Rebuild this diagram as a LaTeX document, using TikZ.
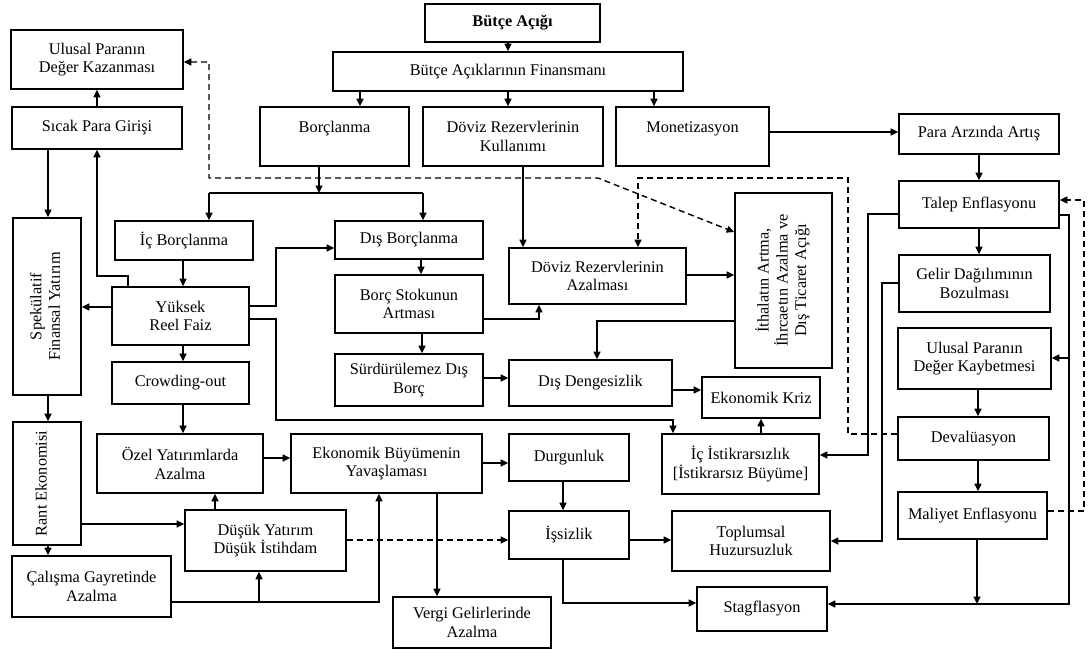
\documentclass[tikz,border=0pt]{standalone}
\usepackage{fontspec}
\setmainfont{Liberation Serif}
\usetikzlibrary{arrows.meta}
\newcommand\mybox[6]{\node[box, minimum width=#4pt, minimum height=#5pt] (#1) at (#2,#3) {#6};}
\newcommand\rottext[1]{\rotatebox{90}{\begin{tabular}{@{}c@{}}#1\end{tabular}}}
\begin{document}
\begin{tikzpicture}[x=1pt,y=-1pt,
  box/.style={draw, line width=1.7pt, align=center, inner sep=0pt, font=\fontsize{16.3}{18.5}\selectfont},
  con/.style={line width=1.4pt},
  arr/.style={con, -{Triangle[length=7.5pt,width=7pt]}},
  darr/.style={arr, dash pattern=on 6pt off 4pt},
  dline/.style={con, dash pattern=on 6pt off 4pt}]
\useasboundingbox[fill=white] (0,0) rectangle (1088,653);
% boxes
\mybox{butce}{512.5}{23}{175}{38}{\textbf{Bütçe Açığı}}
\mybox{baf}{508}{71.5}{350}{39}{Bütçe Açıklarının Finansmanı}
\mybox{borc}{334.5}{136.5}{149}{59}{Borçlanma\\\mbox{}}
\mybox{drk}{513}{136.5}{180}{59}{Döviz Rezervlerinin\\Kullanımı}
\mybox{monet}{692.5}{136.5}{153}{59}{Monetizasyon\\\mbox{}}
\mybox{updk}{97}{59.5}{172}{59}{Ulusal Paranın\\Değer Kazanması}
\mybox{spg}{97}{128}{170}{42}{Sıcak Para Girişi}
\mybox{paa}{979}{134}{160}{40}{Para Arzında Artış}
\mybox{te}{979}{204.5}{160}{47}{Talep Enflasyonu}
\mybox{gdb}{974.5}{283.5}{151}{57}{Gelir Dağılımının\\Bozulması}
\mybox{updkb}{974.5}{358.5}{153}{61}{Ulusal Paranın\\Değer Kaybetmesi}
\mybox{dev}{973.5}{438.5}{151}{43}{Devalüasyon}
\mybox{me}{972.5}{515.5}{149}{47}{Maliyet Enflasyonu}
\mybox{ith}{783.5}{280.5}{97}{175}{\rottext{İthalatın Artma,\\İhrcaetın Azalma ve\\Dış Ticaret Açığı}}
\mybox{sfy}{47}{306.5}{68}{177}{\rottext{Spekülatif\\Finansal Yatırım}}
\node[box, minimum width=68pt, minimum height=123pt] (rant) at (47,483.5) {};
\node[font=\fontsize{16.3}{18.5}\selectfont, inner sep=0pt] at ([xshift=-4pt]rant.center) {\rottext{Rant Ekonomisi}};
\mybox{icb}{184}{240.5}{138}{39}{İç Borçlanma}
\mybox{yrf}{180.5}{316}{137}{58}{Yüksek\\Reel Faiz}
\mybox{crowd}{180.5}{383}{137}{42}{Crowding-out}
\mybox{oya}{180}{463.5}{166}{59}{Özel Yatırımlarda\\Azalma}
\mybox{dy}{265.5}{540.5}{161}{61}{Düşük Yatırım\\Düşük İstihdam}
\mybox{cga}{91.5}{586.5}{159}{61}{Çalışma Gayretinde\\Azalma}
\mybox{disb}{409}{240}{148}{38}{Dış Borçlanma}
\mybox{bsa}{409}{304}{148}{58}{Borç Stokunun\\Artması}
\mybox{sdb}{409}{380}{148}{52}{Sürdürülemez Dış\\Borç}
\mybox{dra}{597.5}{276}{177}{56}{Döviz Rezervlerinin\\Azalması}
\mybox{dd}{590.5}{383}{163}{46}{Dış Dengesizlik}
\mybox{ek}{761}{397.5}{118}{41}{Ekonomik Kriz}
\mybox{ii}{740.5}{464}{157}{60}{İç İstikrarsızlık\\{[}İstikrarsız Büyüme{]}}
\mybox{eby}{386.5}{463.5}{191}{59}{Ekonomik Büyümenin\\Yavaşlaması}
\mybox{durg}{569}{457.5}{120}{47}{Durgunluk}
\mybox{issiz}{569}{535}{120}{48}{İşsizlik}
\mybox{th}{751}{541}{158}{60}{Toplumsal\\Huzursuzluk}
\mybox{stag}{762}{609}{130}{44}{Stagflasyon}
\mybox{vergi}{472}{622.5}{158}{51}{Vergi Gelirlerinde\\Azalma}
\coordinate (split) at (319,193);
% top connectors
\draw[arr] (baf.north |- butce.south) -- (baf.north);
\draw[arr] (360,0 |- baf.south) -- (360,0 |- borc.north);
\draw[arr] (508,0 |- baf.south) -- (508,0 |- drk.north);
\draw[arr] (654,0 |- baf.south) -- (654,0 |- monet.north);
\draw[arr] (split |- borc.south) -- (split);
\draw[con] (209,193) -- (423,193);
\draw[arr] (209,193) -- (209,0 |- icb.north);
\draw[arr] (423,193) -- (423,0 |- disb.north);
\draw[arr] (monet.east |- 0,132) -- (paa.west |- 0,132);
\draw[arr] (paa.south) -- (te.north);
\draw[arr] (te.south) -- (te.south |- gdb.north);
\draw[arr] (978,0 |- updkb.south) -- (978,0 |- dev.north);
\draw[arr] (978,0 |- dev.south) -- (978,0 |- me.north);
% left column
\draw[arr] (spg.north) -- (updk.south);
\draw[arr] (48,0 |- spg.south) -- (48,0 |- sfy.north);
\draw[arr] (128,0 |- yrf.north) -- (128,276) -- (97,276) -- (97,0 |- spg.south);
\draw[arr] (183,0 |- icb.south) -- (183,0 |- yrf.north);
\draw[arr] (yrf.west |- 0,307) -- (sfy.east |- 0,307);
\draw[arr] (yrf.east |- 0,306) -- (276,306) -- (276,248) -- (disb.west |- 0,248);
\draw[arr] (yrf.east |- 0,319) -- (276,319) -- (276,420) -- (673,420) -- (673,0 |- ii.north);
\draw[arr] (183,0 |- yrf.south) -- (183,0 |- crowd.north);
\draw[arr] (183,0 |- crowd.south) -- (183,0 |- oya.north);
\draw[arr] (oya.east |- 0,458) -- (eby.west |- 0,458);
\draw[arr] (215,0 |- dy.north) -- (215,0 |- oya.south);
\draw[arr] (rant.east |- 0,524) -- (dy.west |- 0,524);
\draw[arr] (48,0 |- sfy.south) -- (48,0 |- rant.north);
\draw[arr] (48,0 |- rant.south) -- (48,0 |- cga.north);
\draw[arr] (cga.east |- 0,602) -- (379,602) -- (379,0 |- eby.south);
\draw[arr] (259,602) -- (259,0 |- dy.south);
\draw[darr] (dy.east |- 0,540) -- (issiz.west |- 0,540);
\draw[arr] (437,0 |- eby.south) -- (437,0 |- vergi.north);
\draw[arr] (eby.east |- 0,463) -- (durg.west |- 0,463);
\draw[arr] (563,0 |- durg.south) -- (563,0 |- issiz.north);
\draw[arr] (issiz.east |- 0,540) -- (th.west |- 0,540);
\draw[arr] (563,0 |- issiz.south) -- (563,603) -- (stag.west |- 0,603);
% middle
\draw[arr] (421,0 |- disb.south) -- (421,0 |- bsa.north);
\draw[arr] (bsa.east |- 0,319) -- (539,319) -- (539,0 |- dra.south);
\draw[arr] (422,0 |- bsa.south) -- (422,0 |- sdb.north);
\draw[arr] (sdb.east |- 0,378) -- (dd.west |- 0,378);
\draw[arr] (523,0 |- drk.south) -- (523,0 |- dra.north);
\draw[arr] (dra.east |- 0,275) -- (ith.west |- 0,275);
\draw[arr] (ith.west |- 0,321) -- (597,321) -- (597,0 |- dd.north);
\draw[arr] (dd.east |- 0,390) -- (ek.west |- 0,390);
\draw[arr] (761,0 |- ii.north) -- (761,0 |- ek.south);
% right
\draw[arr] (te.west |- 0,214) -- (868,214) -- (868,455) -- (ii.east |- 0,455);
\draw[arr] (gdb.west |- 0,283) -- (882,283) -- (882,541) -- (th.east |- 0,541);
\draw[arr] (te.east |- 0,215) -- (1069,215) -- (1069,604) -- (stag.east |- 0,604);
\draw[arr] (1069,358) -- (updkb.east |- 0,358);
\draw[arr] (977,0 |- me.south) -- (977,604);
% dashed
\draw[darr] (me.east |- 0,511) -- (1084,511) -- (1084,200) -- (te.east |- 0,200);
\draw[darr] (dev.west |- 0,434) -- (848,434) -- (848,178) -- (638,178) -- (638,0 |- dra.north);
\draw[dline, {Triangle[length=7.5pt,width=7pt]}-{Triangle[length=7.5pt,width=7pt]}] (updk.east |- 0,62) -- (209,62) -- (209,178) -- (598,178) -- (ith.west |- 0,232);
\end{tikzpicture}
\end{document}
